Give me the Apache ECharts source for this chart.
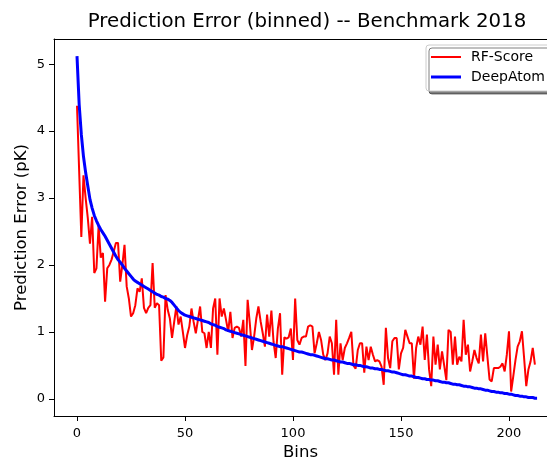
<!DOCTYPE html>
<html>
<head>
<meta charset="utf-8">
<script src="https://cdn.jsdelivr.net/npm/echarts@6/dist/echarts.min.js"></script>
<style>
  html, body { margin: 0; padding: 0; background: #fff; }
  #chart { width: 547px; height: 462px; }
</style>
</head>
<body>
<div id="chart"></div>
<script>
// Binned prediction error per bin index
const rfScore = [
  4.38, 3.40, 2.42, 3.34, 3.00, 2.70, 2.32, 2.72, 1.88, 1.95,
  2.58, 2.11, 2.18, 1.45, 1.95, 2.00, 2.08, 2.20, 2.33, 2.33,
  1.75, 2.00, 2.30, 1.68, 1.50, 1.23, 1.28, 1.40, 1.65, 1.60,
  1.80, 1.36, 1.28, 1.36, 1.40, 2.03, 1.36, 1.43, 1.40, 0.57,
  0.62, 1.55, 1.33, 1.20, 0.91, 1.15, 1.38, 1.11, 1.23, 1.00,
  0.76, 0.95, 1.08, 1.35, 1.15, 0.98, 1.18, 1.38, 1.00, 0.98,
  0.76, 1.00, 0.76, 1.35, 1.50, 0.66, 1.50, 1.23, 1.35, 1.18,
  1.00, 1.30, 0.91, 1.06, 1.08, 1.06, 0.93, 1.18, 0.49, 1.48,
  1.13, 0.73, 0.93, 1.20, 1.38, 1.16, 0.98, 0.78, 1.26, 0.93,
  1.32, 0.85, 0.61, 1.05, 1.28, 0.36, 0.92, 0.90, 0.92, 1.05,
  0.58, 1.50, 0.88, 0.81, 0.91, 0.93, 0.93, 1.08, 1.10, 1.08,
  0.68, 0.83, 1.00, 0.88, 0.66, 0.58, 0.68, 0.93, 0.83, 0.36,
  1.18, 0.36, 0.83, 0.58, 0.76, 0.83, 0.91, 1.00, 0.50, 0.45,
  0.73, 0.83, 0.83, 0.39, 0.78, 0.58, 0.78, 0.66, 0.56, 0.58,
  0.56, 0.48, 0.21, 1.06, 0.61, 0.46, 0.86, 0.91, 0.91, 0.44,
  0.68, 0.76, 1.03, 0.93, 0.83, 0.83, 0.30, 0.76, 0.93, 0.81,
  1.08, 0.58, 0.96, 0.44, 0.19, 0.93, 0.51, 0.81, 0.44, 0.71,
  0.50, 0.28, 1.03, 1.00, 0.51, 0.93, 0.51, 0.63, 0.56, 1.18,
  0.66, 0.81, 0.41, 0.56, 0.73, 0.61, 0.53, 0.96, 0.56, 0.98,
  0.63, 0.29, 0.26, 0.46, 0.46, 0.46, 0.48, 0.53, 0.41, 0.66,
  1.01, 0.11, 0.34, 0.58, 0.78, 0.86, 1.01, 0.61, 0.19, 0.44,
  0.56, 0.76, 0.51
];

const deepAtom = [
  5.12, 4.40, 3.95, 3.62, 3.38, 3.18, 2.98, 2.85, 2.74, 2.66,
  2.59, 2.53, 2.48, 2.43, 2.37, 2.31, 2.25, 2.19, 2.13, 2.08,
  2.04, 2.00, 1.95, 1.91, 1.87, 1.83, 1.79, 1.76, 1.74, 1.72,
  1.70, 1.68, 1.66, 1.64, 1.62, 1.60, 1.58, 1.56, 1.55, 1.53,
  1.52, 1.50, 1.49, 1.47, 1.44, 1.40, 1.36, 1.32, 1.29, 1.27,
  1.25, 1.24, 1.23, 1.22, 1.21, 1.20, 1.19, 1.18, 1.17, 1.16,
  1.15, 1.14, 1.12, 1.11, 1.10, 1.08, 1.07, 1.06, 1.05, 1.03,
  1.02, 1.01, 1.00, 0.99, 0.98, 0.97, 0.96, 0.95, 0.94, 0.93,
  0.92, 0.91, 0.90, 0.89, 0.88, 0.87, 0.86, 0.85, 0.84, 0.83,
  0.82, 0.81, 0.80, 0.79, 0.78, 0.78, 0.77, 0.76, 0.75, 0.74,
  0.73, 0.72, 0.71, 0.70, 0.70, 0.69, 0.68, 0.67, 0.66, 0.66,
  0.65, 0.64, 0.63, 0.62, 0.61, 0.60, 0.60, 0.59, 0.58, 0.58,
  0.57, 0.56, 0.55, 0.55, 0.54, 0.53, 0.53, 0.52, 0.51, 0.51,
  0.50, 0.50, 0.49, 0.48, 0.48, 0.47, 0.46, 0.46, 0.45, 0.45,
  0.44, 0.44, 0.43, 0.42, 0.42, 0.41, 0.40, 0.40, 0.39, 0.38,
  0.37, 0.36, 0.36, 0.35, 0.34, 0.34, 0.33, 0.32, 0.32, 0.31,
  0.30, 0.30, 0.29, 0.29, 0.28, 0.28, 0.27, 0.27, 0.26, 0.25,
  0.25, 0.24, 0.24, 0.23, 0.22, 0.22, 0.21, 0.21, 0.20, 0.19,
  0.19, 0.18, 0.18, 0.17, 0.16, 0.16, 0.15, 0.15, 0.14, 0.13,
  0.13, 0.12, 0.11, 0.11, 0.10, 0.10, 0.09, 0.09, 0.08, 0.08,
  0.07, 0.07, 0.06, 0.05, 0.05, 0.04, 0.04, 0.03, 0.03, 0.02,
  0.02, 0.02, 0.01, 0.01
];

const xTicks = [0, 50, 100, 150, 200];
const yTicks = [0, 1, 2, 3, 4, 5];

const FONT = 'DejaVu Sans';
const toPairs = arr => arr.map((v, i) => [i, v]);

const chart = echarts.init(document.getElementById('chart'), null, { renderer: 'canvas' });

const axisCommon = {
  axisLine: { show: true, onZero: false, lineStyle: { color: '#000', width: 1 } },
  axisTick: { show: true, length: 5, lineStyle: { color: '#000', width: 1 } },
  splitLine: { show: false },
  axisLabel: { color: '#000', fontFamily: FONT, fontSize: 13 }
};

chart.setOption({
  animation: false,
  backgroundColor: '#fff',
  title: {
    text: 'Prediction Error (binned) -- Benchmark 2018',
    left: 302,
    top: 7,
    textAlign: 'center',
    textStyle: { fontFamily: FONT, fontSize: 19.8, fontWeight: 'normal', color: '#000' }
  },
  legend: {
    orient: 'vertical',
    left: 426,
    top: 45,
    padding: [5, 30, 7, 5],
    itemWidth: 30,
    itemHeight: 14,
    itemGap: 6,
    symbolKeepAspect: true,
    backgroundColor: '#fff',
    borderColor: '#cccccc',
    borderWidth: 1,
    borderRadius: 3,
    shadowColor: 'rgba(0,0,0,0.5)',
    shadowOffsetX: 3,
    shadowOffsetY: 3,
    shadowBlur: 0,
    textStyle: { fontFamily: FONT, fontSize: 14, color: '#000', padding: [0, 0, 0, 5] },
    data: [
      { name: 'RF-Score', icon: 'path://M0,0H30V2H0Z' },
      { name: 'DeepAtom', icon: 'path://M0,0H30V3H0Z' }
    ]
  },
  grid: { left: 54, top: 39, right: 0, bottom: 46, containLabel: false, outerBoundsMode: 'none' },
  xAxis: [
    Object.assign({}, axisCommon, {
      type: 'value', min: -10.65, max: 217.6,
      axisTick: Object.assign({}, axisCommon.axisTick, { customValues: xTicks }),
      axisLabel: Object.assign({}, axisCommon.axisLabel, { customValues: xTicks, margin: 11 }),
      name: 'Bins', nameLocation: 'middle', nameGap: 28, nameMoveOverlap: false,
      nameTextStyle: { fontFamily: FONT, fontSize: 16.5, color: '#000' }
    }),
    {
      type: 'value', position: 'top', min: -10.65, max: 217.6,
      axisLine: { show: true, onZero: false, lineStyle: { color: '#000', width: 1 } },
      axisTick: { show: false }, axisLabel: { show: false }, splitLine: { show: false }
    }
  ],
  yAxis: Object.assign({}, axisCommon, {
    type: 'value', min: -0.256, max: 5.376,
    axisTick: Object.assign({}, axisCommon.axisTick, { customValues: yTicks }),
    axisLabel: Object.assign({}, axisCommon.axisLabel, { customValues: yTicks, margin: 9 }),
    name: 'Prediction Error (pK)', nameLocation: 'middle', nameGap: 24, nameMoveOverlap: false,
    nameTextStyle: { fontFamily: FONT, fontSize: 16.5, color: '#000' }
  }),
  series: [
    {
      name: 'RF-Score', type: 'line', data: toPairs(rfScore),
      symbol: 'none', lineStyle: { color: '#ff0000', width: 2 }, itemStyle: { color: '#ff0000' },
      z: 2
    },
    {
      name: 'DeepAtom', type: 'line', data: toPairs(deepAtom),
      symbol: 'none', lineStyle: { color: '#0000ff', width: 3 }, itemStyle: { color: '#0000ff' },
      z: 3
    }
  ]
});
</script>
</body>
</html>
